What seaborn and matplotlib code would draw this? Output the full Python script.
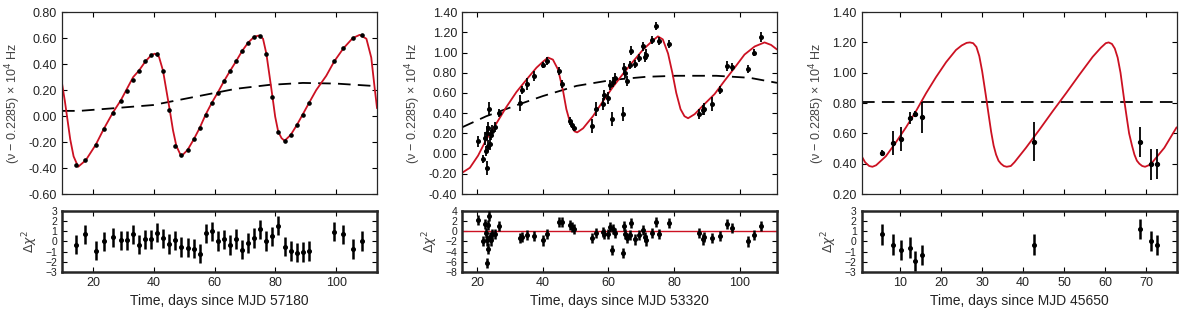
import matplotlib
matplotlib.use("Agg")
import matplotlib.pyplot as plt
import matplotlib.ticker as mticker
import seaborn as sns

sns.set_style("ticks")
plt.rcParams['font.family'] = ['Liberation Sans', 'DejaVu Sans']
plt.rcParams['axes.unicode_minus'] = False
plt.rcParams['mathtext.fontset'] = 'dejavusans'

RED = '#cc1122'

# ---------------- Panel 1 (MJD 57180) ----------------
p1_curve_x = [9.8, 10.7, 11.6, 12.5, 13.6, 15.1, 17.6, 20.9, 23.5, 26.6, 29.1, 33.2, 35.1,
              37.2, 39.2, 40.3, 41.7, 43.0, 44.1, 45.2, 46.3, 47.4, 49.0, 51.1, 53.1, 55.1,
              57.0, 59.0, 61.0, 63.1, 65.0, 67.0, 69.0, 71.0, 73.0, 74.6, 75.9, 77.0, 78.1,
              79.0, 79.9, 80.9, 82.0, 83.0, 85.0, 87.0, 88.9, 91.0, 93.4, 96.7, 99.3, 102.3,
              105.4, 107.7, 109.9, 111.5, 112.6, 113.4]
p1_curve_y = [0.25, 0.12, -0.03, -0.18, -0.31, -0.39, -0.34, -0.22, -0.10, 0.03, 0.12, 0.30,
              0.35, 0.42, 0.47, 0.48, 0.455, 0.35, 0.20, 0.05, -0.11, -0.23, -0.31, -0.26,
              -0.18, -0.09, 0.01, 0.10, 0.18, 0.27, 0.345, 0.42, 0.50, 0.565, 0.61, 0.62,
              0.595, 0.48, 0.30, 0.15, -0.005, -0.12, -0.17, -0.19, -0.145, -0.07, 0.01,
              0.10, 0.20, 0.31, 0.42, 0.52, 0.60, 0.625, 0.595, 0.45, 0.22, 0.06]
p1_dash_x = [9.8, 15.6, 26.6, 39.8, 45.2, 56.1, 67.0, 78.0, 89.0, 99.9, 113.4]
p1_dash_y = [0.04, 0.04, 0.06, 0.085, 0.11, 0.16, 0.21, 0.24, 0.255, 0.25, 0.23]
p1_x = [14.5, 17.5, 20.9, 23.5, 26.6, 29.1, 31.1, 33.0, 35.1, 37.2, 39.2, 41.0, 43.1, 45.1,
        47.1, 49.0, 51.1, 53.1, 55.1, 57.0, 59.0, 61.0, 63.1, 65.0, 67.0, 69.0, 71.0, 73.0,
        75.0, 77.0, 79.0, 80.9, 83.0, 85.0, 87.0, 88.9, 91.0, 99.3, 102.3, 105.4, 108.3]
p1_y = [-0.38, -0.34, -0.22, -0.10, 0.02, 0.115, 0.19, 0.275, 0.35, 0.42, 0.47, 0.475, 0.35,
        0.05, -0.23, -0.30, -0.26, -0.18, -0.09, 0.01, 0.10, 0.18, 0.27, 0.345, 0.42, 0.50,
        0.565, 0.61, 0.615, 0.48, 0.15, -0.12, -0.19, -0.145, -0.07, 0.01, 0.10, 0.42, 0.52,
        0.60, 0.62]
p1_res = [-0.3, 0.7, -0.9, 0.0, 0.4, 0.1, 0.1, 0.7, -0.3, 0.2, 0.2, 0.85, 0.3, -0.25, 0.1,
          -0.55, -0.6, -0.7, -1.2, 0.8, 1.0, 0.05, 0.2, -0.35, 0.25, -0.8, -0.15, 0.35, 1.2,
          0.05, 0.5, 1.55, -0.5, -0.95, -1.1, -1.05, -0.95, 0.95, 0.7, -0.75, 0.05]

# ---------------- Panel 2 (MJD 53320) ----------------
p2_curve_x = [15.4, 17.8, 20.3, 22.8, 25.9, 28.9, 32.0, 35.0, 38.1, 40.1, 41.6, 43.1, 44.7,
              46.2, 47.2, 48.4, 49.7, 50.5, 52.3, 55.3, 58.4, 61.4, 64.5, 67.5, 70.6, 73.6,
              75.1, 76.6, 78.2, 79.5, 80.7, 82.0, 83.2, 84.3, 86.3, 89.3, 92.4, 95.4, 98.5,
              101.5, 104.6, 107.6, 109.6, 111.4]
p2_curve_y = [-0.19, -0.14, -0.02, 0.14, 0.30, 0.46, 0.61, 0.73, 0.85, 0.91, 0.95, 0.93,
              0.83, 0.62, 0.44, 0.30, 0.22, 0.21, 0.25, 0.37, 0.52, 0.66, 0.79, 0.91, 1.03,
              1.12, 1.16, 1.13, 0.99, 0.80, 0.60, 0.44, 0.37, 0.35, 0.39, 0.49, 0.59, 0.72,
              0.85, 0.98, 1.06, 1.10, 1.075, 1.03]
p2_dash_x = [15.4, 22.8, 33.0, 40.1, 50.3, 61.4, 71.6, 80.7, 92.9, 103.1, 111.4]
p2_dash_y = [0.26, 0.37, 0.49, 0.57, 0.67, 0.73, 0.76, 0.77, 0.77, 0.75, 0.70]
p2_x = [20.3, 21.8, 22.5, 22.7, 22.9, 23.0, 23.2, 23.4, 23.6, 23.8, 24.1, 24.4, 25.4, 26.7,
        33.0, 33.8, 35.2, 37.3, 40.1, 41.2, 45.0, 45.9, 48.2, 48.9, 49.6, 55.0, 56.3, 58.4,
        58.7, 59.9, 60.4, 61.1, 61.4, 61.9, 64.5, 64.8, 65.2, 65.8, 66.5, 67.0, 68.0, 69.3,
        70.6, 71.1, 71.6, 73.4, 74.6, 75.4, 78.5, 87.6, 88.8, 89.3, 91.7, 94.1, 96.1, 97.7,
        102.5, 104.3, 106.6]
p2_y = [0.12, -0.05, 0.15, 0.03, -0.14, 0.20, 0.08, 0.25, 0.44, 0.10, 0.18, 0.22, 0.26, 0.40,
        0.50, 0.63, 0.69, 0.77, 0.88, 0.92, 0.82, 0.69, 0.32, 0.28, 0.25, 0.27, 0.44, 0.49,
        0.58, 0.55, 0.68, 0.34, 0.71, 0.75, 0.39, 0.85, 0.80, 0.72, 0.88, 1.02, 0.89, 0.95,
        1.06, 0.96, 0.98, 1.12, 1.26, 1.11, 1.08, 0.39, 0.43, 0.44, 0.49, 0.63, 0.87, 0.86,
        0.84, 1.00, 1.15]
p2_err = [0.05, 0.04, 0.06, 0.05, 0.07, 0.07, 0.05, 0.06, 0.07, 0.06, 0.05, 0.06, 0.05, 0.04,
          0.08, 0.04, 0.06, 0.05, 0.03, 0.04, 0.04, 0.04, 0.04, 0.03, 0.03, 0.07, 0.07, 0.06,
          0.05, 0.06, 0.05, 0.07, 0.05, 0.05, 0.07, 0.05, 0.05, 0.05, 0.04, 0.04, 0.04, 0.04,
          0.04, 0.05, 0.05, 0.04, 0.04, 0.04, 0.04, 0.05, 0.05, 0.06, 0.07, 0.04, 0.05, 0.04,
          0.04, 0.03, 0.05]
p2_res = [2.2, -1.9, 1.5, -0.3, -6.2, -1.8, -3.4, 1.2, 3.0, -1.1, -1.8, -0.5, -0.5, 1.0,
          -1.4, -1.1, -0.8, -0.9, -1.8, -0.5, 1.8, 1.8, 1.3, 0.9, 0.5, -1.4, -0.3, -0.1,
          -0.5, -0.5, 0.9, -3.6, 0.5, -0.3, -4.3, 1.0, -0.5, -1.4, -0.8, 1.7, -1.6, -0.7,
          0.2, -1.1, -1.8, -0.3, 1.8, -0.5, 1.6, -0.3, -1.6, -1.2, -1.4, -0.9, 1.4, 0.7,
          -2.0, -0.7, 1.0]

# ---------------- Panel 3 (MJD 45650) ----------------
p3_curve_x = [0.55, 1.4, 2.4, 3.2, 4.1, 6.5, 8.9, 11.4, 13.8, 16.3, 18.7, 21.2, 23.6, 25.0,
              26.2, 27.0, 27.8, 28.6, 29.3, 30.0, 30.9, 31.6, 32.2, 32.8, 33.4, 34.0, 34.6,
              35.3, 36.0, 37.0, 37.9, 40.7, 44.0, 47.2, 50.5, 53.7, 57.0, 59.0, 60.2, 60.9,
              61.7, 62.4, 63.1, 63.8, 64.7, 65.4, 65.9, 66.6, 67.2, 67.8, 68.4, 69.1, 69.8,
              70.7, 71.6, 74.5, 77.5]
p3_curve_y = [0.45, 0.41, 0.385, 0.38, 0.39, 0.45, 0.54, 0.64, 0.745, 0.865, 0.97, 1.07,
              1.15, 1.18, 1.197, 1.20, 1.195, 1.17, 1.11, 1.01, 0.85, 0.72, 0.61, 0.52, 0.46,
              0.42, 0.40, 0.385, 0.38, 0.385, 0.41, 0.505, 0.625, 0.745, 0.865, 0.985, 1.105,
              1.165, 1.195, 1.20, 1.19, 1.16, 1.10, 1.00, 0.82, 0.69, 0.60, 0.52, 0.46, 0.42,
              0.40, 0.385, 0.38, 0.39, 0.41, 0.505, 0.64]
p3_dash_x = [0.55, 77.5]
p3_dash_y = [0.81, 0.81]
p3_x = [5.6, 8.2, 10.2, 12.4, 13.7, 15.2, 42.7, 68.5, 71.2, 72.8]
p3_y = [0.47, 0.535, 0.565, 0.70, 0.73, 0.705, 0.545, 0.545, 0.395, 0.40]
p3_err = [0.02, 0.08, 0.08, 0.04, 0.02, 0.10, 0.13, 0.10, 0.10, 0.10]
p3_res = [0.7, -0.3, -0.85, -0.6, -1.9, -1.35, -0.3, 1.2, 0.05, -0.35]

panels = [
    dict(cx=p1_curve_x, cy=p1_curve_y, dx=p1_dash_x, dy=p1_dash_y, x=p1_x, y=p1_y,
         err=[0.008] * len(p1_x), res=p1_res, rerr=[0.95] * len(p1_x), ms=2.3,
         xlim=(9.8, 113.4), ylim=(-0.6, 0.8), yticks=[-0.6, -0.4, -0.2, 0.0, 0.2, 0.4, 0.6, 0.8],
         xticks=[20, 40, 60, 80, 100], rlim=(-3, 3), rticks=[-3, -2, -1, 0, 1, 2, 3],
         zero=False, mjd='57180'),
    dict(cx=p2_curve_x, cy=p2_curve_y, dx=p2_dash_x, dy=p2_dash_y, x=p2_x, y=p2_y,
         err=p2_err, res=p2_res, rerr=[1.0] * len(p2_x), ms=2.6,
         xlim=(15.4, 111.4), ylim=(-0.4, 1.4),
         yticks=[-0.4, -0.2, 0.0, 0.2, 0.4, 0.6, 0.8, 1.0, 1.2, 1.4],
         xticks=[20, 40, 60, 80, 100], rlim=(-8, 4), rticks=[-8, -6, -4, -2, 0, 2, 4],
         zero=True, mjd='53320'),
    dict(cx=p3_curve_x, cy=p3_curve_y, dx=p3_dash_x, dy=p3_dash_y, x=p3_x, y=p3_y,
         err=p3_err, res=p3_res, rerr=[1.0] * len(p3_x), ms=2.8,
         xlim=(0.55, 77.5), ylim=(0.2, 1.4), yticks=[0.2, 0.4, 0.6, 0.8, 1.0, 1.2, 1.4],
         xticks=[10, 20, 30, 40, 50, 60, 70], rlim=(-3, 3), rticks=[-3, -2, -1, 0, 1, 2, 3],
         zero=False, mjd='45650'),
]

fig = plt.figure(figsize=(12, 3.1), dpi=100)
lefts = [0.0517, 0.385, 0.718]
W = 0.2625
TXT = '#222222'

for left, p in zip(lefts, panels):
    ax = fig.add_axes([left, 0.374, W, 0.587])
    rax = fig.add_axes([left, 0.1226, W, 0.197])

    sns.lineplot(x=p['dx'], y=p['dy'], ax=ax, color='black', lw=1.3, sort=False,
                 estimator=None)
    ax.lines[-1].set_dashes([7, 4])
    sns.lineplot(x=p['cx'], y=p['cy'], ax=ax, color=RED, lw=1.3, sort=False, estimator=None)
    ax.errorbar(p['x'], p['y'], yerr=p['err'], fmt='o', color='black', ms=p['ms'],
                elinewidth=1.3, capsize=0, zorder=5)

    if p['zero']:
        rax.axhline(0, color=RED, lw=1.0, zorder=1)
    rax.errorbar(p['x'], p['res'], yerr=p['rerr'], fmt='o', color='black', ms=2.6,
                 elinewidth=1.8, capsize=0, zorder=5)

    for a in (ax, rax):
        a.set_xlim(*p['xlim'])
        a.set_xticks(p['xticks'])
        a.tick_params(direction='in', top=True, right=True, length=3.5, width=0.8,
                      labelsize=9, colors='black', labelcolor=TXT)
    ax.set_ylim(*p['ylim'])
    ax.set_yticks(p['yticks'])
    ax.yaxis.set_major_formatter(mticker.FormatStrFormatter('%.2f'))
    ax.tick_params(labelbottom=False)
    for s in ax.spines.values():
        s.set_linewidth(0.9)
    rax.set_ylim(*p['rlim'])
    rax.set_yticks(p['rticks'])
    rax.set_yticklabels([str(t).replace('-', '\u2212') for t in p['rticks']], fontsize=7.5)
    for s in rax.spines.values():
        s.set_linewidth(1.8)

    ax.set_ylabel('(\u03bd \u2212 0.2285) \u00d7 10$^{4}$ Hz', fontsize=9, color='#444444')
    rax.set_ylabel('$\\Delta\\chi^2$', fontsize=9, color='#444444')
    rax.set_xlabel('Time, days since MJD ' + p['mjd'], fontsize=10, color=TXT)

fig.savefig('out.png', dpi=100)
